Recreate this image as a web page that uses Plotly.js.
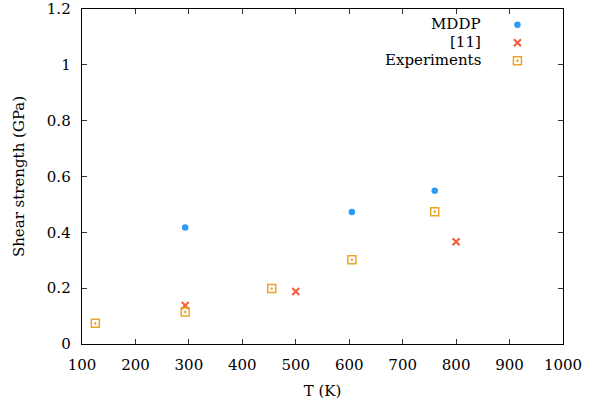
<!DOCTYPE html>
<html>
<head>
<meta charset="utf-8">
<script src="https://cdn.plot.ly/plotly-3.0.1.min.js"></script>
<style>html,body{margin:0;padding:0;background:#fff;}#chart{width:594px;height:405px;}</style>
</head>
<body>
<div id="chart"></div>
<script>
// Data
const seriesNames = ["MDDP", "[11]", "Experiments"];
const mddpT = [293, 605, 760];
const mddpS = [0.417, 0.473, 0.549];
const refT = [293, 500, 800];
const refS = [0.138, 0.188, 0.366];
const expT = [125, 293, 455, 605, 760];
const expS = [0.074, 0.115, 0.199, 0.302, 0.474];
const xTicks = [100, 200, 300, 400, 500, 600, 700, 800, 900, 1000];
const yTicks = [0, 0.2, 0.4, 0.6, 0.8, 1, 1.2];
const yTickText = ["0", "0.2", "0.4", "0.6", "0.8", "1", "1.2"];

const FONT = "DejaVu Serif";
const FS = 15;

const traces = [
  {x: mddpT, y: mddpS, name: " ", type: "scatter", mode: "markers", legend: "legend",
   marker: {symbol: "circle", size: 6.5, color: "#2e9cf4"}},
  {x: refT, y: refS, name: " ", type: "scatter", mode: "markers", legend: "legend2",
   marker: {symbol: "x-thin-open", size: 7, color: "#f45a3c", line: {width: 2, color: "#f45a3c"}}},
  {x: expT, y: expS, name: " ", type: "scatter", mode: "markers", legend: "legend3",
   marker: {symbol: "square-open-dot", size: 8, color: "#e9a52a", line: {width: 1.5, color: "#e9a52a"}}}
];

const legY = [0.954, 0.900, 0.8466];
const annotations = seriesNames.map((n, i) => ({
  text: n, xref: "paper", yref: "paper", x: 0.833, y: legY[i],
  xanchor: "right", yanchor: "middle", showarrow: false,
  font: {family: FONT, size: FS, color: "#000"}
}));

const legBase = {x: 0.8637, xanchor: "left", yanchor: "top", bgcolor: "rgba(0,0,0,0)",
                 font: {family: FONT, size: 10.8}};

const axisCommon = {
  showgrid: false, zeroline: false, showline: true, linecolor: "#000", linewidth: 1.3,
  mirror: "ticks", ticks: "inside", ticklen: 5, tickcolor: "#333", tickwidth: 1,
  tickfont: {family: FONT, size: FS, color: "#000"}
};

const layout = {
  width: 594, height: 405,
  margin: {l: 82.3, r: 30.7, t: 9.3, b: 60.7, pad: 0},
  paper_bgcolor: "#fff", plot_bgcolor: "#fff",
  showlegend: true,
  legend: Object.assign({}, legBase, {y: 0.9964}),
  legend2: Object.assign({}, legBase, {y: 0.9427}),
  legend3: Object.assign({}, legBase, {y: 0.8890}),
  xaxis: Object.assign({}, axisCommon, {
    range: [100, 1000], tickvals: xTicks, ticktext: xTicks.map(String), ticklabelstandoff: 7,
    title: {text: "T (K)", font: {family: FONT, size: FS, color: "#000"}, standoff: 12}
  }),
  yaxis: Object.assign({}, axisCommon, {
    range: [0, 1.2], tickvals: yTicks, ticktext: yTickText, ticklabelstandoff: 7,
    title: {text: "Shear strength (GPa)", font: {family: FONT, size: FS, color: "#000"}, standoff: 18}
  }),
  annotations: annotations
};

Plotly.newPlot("chart", traces, layout, {displayModeBar: false, staticPlot: true});
</script>
</body>
</html>
